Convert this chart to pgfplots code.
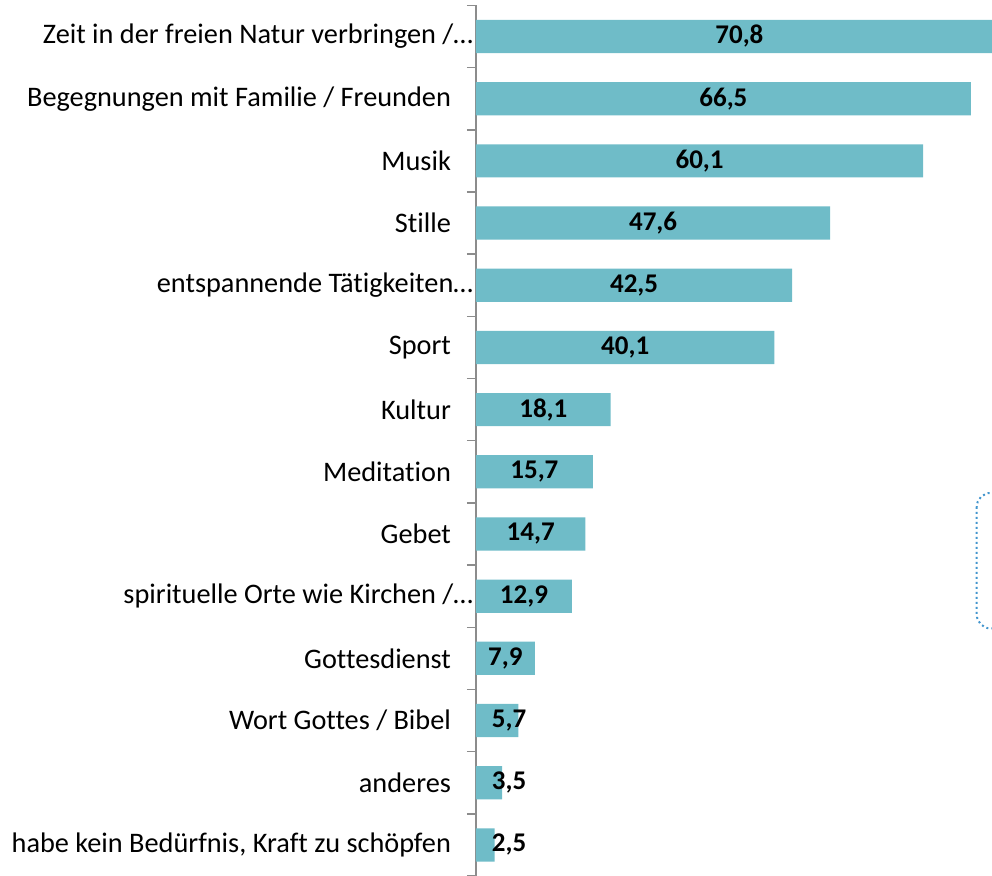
\documentclass[border=0pt]{standalone}
\usepackage{fontspec}
\setmainfont{Carlito}[Ligatures=NoCommon]
\usepackage{pgfplots}
\pgfplotsset{compat=1.18}
\usepackage{pgfplotstable}

\definecolor{barteal}{HTML}{6FBCC8}
\definecolor{axisgray}{HTML}{8C8C8C}
\definecolor{boxblue}{HTML}{4396CE}

% index, value, label position, label text
\pgfplotstableread{
idx val pos lab
0  70.8 35.40 70,8
1  66.5 33.25 66,5
2  60.1 30.05 60,1
3  47.6 23.80 47,6
4  42.5 21.25 42,5
5  40.1 20.05 40,1
6  18.1 9.05  18,1
7  15.7 7.85  15,7
8  14.7 7.35  14,7
9  12.9 6.45  12,9
10 7.9  3.95  7,9
11 5.7  4.45  5,7
12 3.5  4.45  3,5
13 2.5  4.45  2,5
}\datatable

\begin{document}
\begin{tikzpicture}
\begin{axis}[
  scale only axis,
  width=258pt, height=435.3pt,
  xmin=0, xmax=69.35,
  ymin=-0.5, ymax=13.5,
  y dir=reverse,
  axis x line=none,
  axis y line*=left,
  y axis line style={draw=axisgray, line width=0.75pt},
  ytick={0,...,13},
  major tick length=0pt,
  minor ytick={-0.5,0.5,...,13.5},
  minor tick length=4.5pt,
  tick align=outside,
  minor tick style={draw=axisgray, line width=0.75pt},
  yticklabel style={font=\fontsize{14.15}{16}\selectfont, anchor=east, xshift=-9pt},
  yticklabels={
    {Zeit in der freien Natur verbringen /…\kern-11pt},
    {Begegnungen mit Familie / Freunden},
    {Musik},
    {Stille},
    {entspannende Tätigkeiten…\kern-11pt},
    {Sport},
    {Kultur},
    {Meditation},
    {Gebet},
    {spirituelle Orte wie Kirchen /…\kern-11pt},
    {Gottesdienst},
    {Wort Gottes / Bibel},
    {anderes},
    {habe kein Bedürfnis, Kraft zu schöpfen},
  },
]
\addplot[xbar, bar width=16.6pt, fill=barteal, draw=none] table[x=val, y=idx] {\datatable};
\addplot[draw=none, mark=none, nodes near coords, point meta=explicit symbolic,
  every node near coord/.style={anchor=center, font=\fontsize{13.5}{15}\selectfont\bfseries, text=black}]
  table[x=pos, y=idx, meta=lab] {\datatable};
\draw[boxblue, line width=1pt, dash pattern=on 1pt off 1.5pt, rounded corners=7pt]
  (axis cs:67.3,7.34) rectangle (axis cs:80,9.52);
\end{axis}
\pgfresetboundingbox
\useasboundingbox ([xshift=-238pt]current axis.south west) rectangle ([yshift=2.7pt]current axis.north east);
\end{tikzpicture}
\end{document}
